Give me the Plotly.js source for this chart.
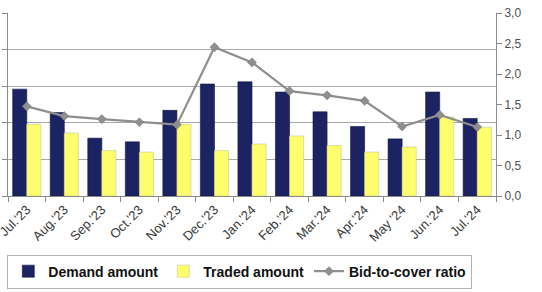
<!DOCTYPE html>
<html>
<head>
<meta charset="utf-8">
<script src="https://cdn.plot.ly/plotly-3.0.1.min.js"></script>
<style>html,body{margin:0;padding:0;background:#fff;}#chart{width:542px;height:292px;}</style>
</head>
<body>
<div id="chart"></div>
<script>
var months = ["Jul.'23","Aug.'23","Sep.'23","Oct.'23","Nov.'23","Dec.'23","Jan.'24","Feb.'24","Mar.'24","Apr.'24","May '24","Jun.'24","Jul.'24"];
var demandAmount = [1.46, 1.14, 0.79, 0.74, 1.17, 1.53, 1.56, 1.42, 1.15, 0.95, 0.78, 1.42, 1.06];
var tradedAmount = [0.98, 0.86, 0.62, 0.60, 0.98, 0.62, 0.71, 0.82, 0.69, 0.60, 0.67, 1.08, 0.94];
var bidToCover = [1.47, 1.31, 1.26, 1.21, 1.17, 2.44, 2.19, 1.72, 1.65, 1.56, 1.14, 1.33, 1.13];

var traces = [
  {type:'bar', name:'Demand amount', x:months, y:demandAmount,
   marker:{color:'#1b2363', line:{color:'#10163f', width:0.6}}},
  {type:'bar', name:'Traded amount', x:months, y:tradedAmount,
   marker:{color:'#ffff6e', line:{color:'#c8c890', width:0.6}}},
  {type:'scatter', mode:'lines+markers', name:'Bid-to-cover ratio', x:months, y:bidToCover, yaxis:'y2',
   line:{color:'#8f8f8f', width:2.2}, marker:{symbol:'diamond', size:7, color:'#8f8f8f', line:{color:'#7a7a7a', width:0.5}}}
];

var layout = {
  width:542, height:292,
  margin:{l:8, r:46, t:13, b:96, autoexpand:false},
  paper_bgcolor:'#ffffff', plot_bgcolor:'#ffffff',
  separators:',.',
  barmode:'group', bargap:0.25, bargroupgap:0,
  showlegend:true,
  font:{family:'Liberation Sans, Arial, sans-serif', color:'#404040'},
  xaxis:{type:'category', range:[-0.5, 12.5], tickson:'boundaries', ticks:'outside', ticklen:5, tickcolor:'#8a8a8a', automargin:false,
         tickangle:-45, tickfont:{size:13, color:'#3a3a3a'}, showline:true, linecolor:'#8a8a8a', linewidth:1,
         showgrid:false, zeroline:false, fixedrange:true},
  yaxis:{range:[0,2.5], dtick:0.5, showticklabels:false, ticks:'outside', ticklen:5, tickcolor:'#8a8a8a', automargin:false,
         showgrid:true, gridcolor:'#a8a8a8', gridwidth:1, showline:true, linecolor:'#8a8a8a', linewidth:1, zeroline:false},
  yaxis2:{overlaying:'y', side:'right', range:[0,3], dtick:0.5, tickformat:'.1f', ticks:'outside', ticklen:5, automargin:false,
          tickcolor:'#8a8a8a', showgrid:false, showline:true, linecolor:'#8a8a8a', linewidth:1, zeroline:false,
          tickfont:{size:12, color:'#505050'}},
  legend:{orientation:'h', x:0.475, xanchor:'center', y:-0.32, yanchor:'top',
          bordercolor:'#b0b0b0', borderwidth:1, bgcolor:'#ffffff',
          font:{size:14, color:'#111111', family:'Liberation Sans, Arial, sans-serif', weight:'bold'},
          itemwidth:30, tracegroupgap:0}
};

Plotly.newPlot('chart', traces, layout, {staticPlot:true, displayModeBar:false});
</script>
</body>
</html>
